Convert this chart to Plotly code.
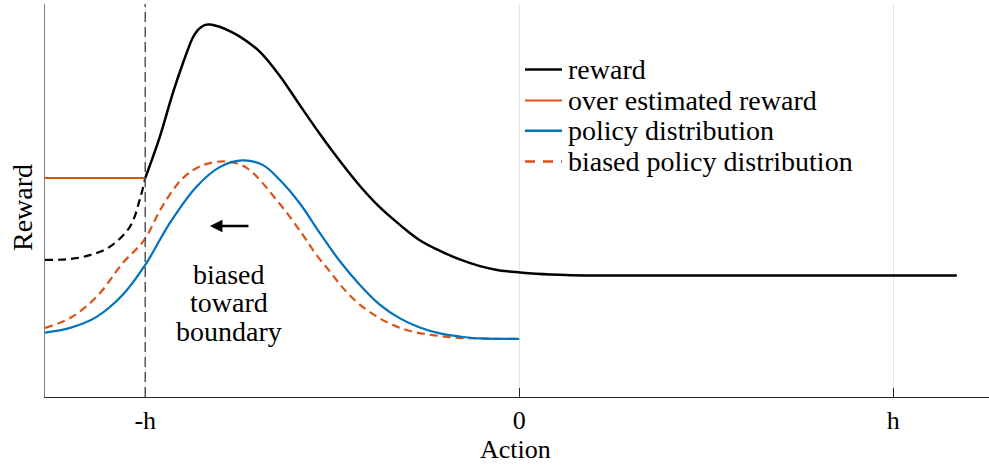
import plotly.graph_objects as go

# Action axis is in units of h (boundary at -h)
reward_x = [-1.0, -0.961, -0.926, -0.899, -0.872, -0.859, -0.849, -0.840, -0.827, -0.801,
            -0.774, -0.747, -0.694, -0.640, -0.587, -0.533, -0.480, -0.426, -0.373,
            -0.319, -0.266, -0.212, -0.159, -0.105, -0.052, 0.002, 0.082, 0.216, 1.170]
reward_y = [0.557, 0.662, 0.774, 0.850, 0.916, 0.934, 0.942, 0.947, 0.948, 0.942,
            0.931, 0.917, 0.879, 0.817, 0.743, 0.669, 0.601, 0.537, 0.483,
            0.438, 0.399, 0.372, 0.350, 0.333, 0.322, 0.317, 0.312, 0.309, 0.309]

# reward extrapolated past the boundary
reward_out_x = [-1.268, -1.202, -1.148, -1.095, -1.041, -1.015, -1.0]
reward_out_y = [0.349, 0.351, 0.361, 0.382, 0.433, 0.501, 0.557]

over_x = [-1.268, -1.0]
over_y = [0.557, 0.557]

policy_x = [-1.268, -1.201, -1.130, -1.060, -1.0, -0.934, -0.863, -0.801, -0.739, -0.685,
            -0.640, -0.587, -0.533, -0.480, -0.426, -0.373, -0.319, -0.266, -0.212,
            -0.159, -0.105, 0.0]
policy_y = [0.164, 0.176, 0.204, 0.260, 0.336, 0.443, 0.535, 0.585, 0.602, 0.590,
            0.552, 0.493, 0.417, 0.346, 0.285, 0.235, 0.200, 0.177, 0.162,
            0.154, 0.149, 0.148]

biased_x = [-1.268, -1.201, -1.130, -1.060, -1.003, -0.955, -0.899, -0.846, -0.782, -0.729,
            -0.645, -0.582, -0.542, -0.506, -0.471, -0.431, -0.380, -0.332, -0.284,
            -0.220, -0.150, 0.0]
biased_y = [0.176, 0.201, 0.255, 0.341, 0.399, 0.484, 0.557, 0.590, 0.599, 0.583,
            0.497, 0.417, 0.361, 0.319, 0.277, 0.239, 0.204, 0.181, 0.166,
            0.156, 0.150, 0.148]

tick_vals = [-1, 0, 1]
tick_text = ["-h", "0", "h"]
legend_names = ["reward", "over estimated reward", "policy distribution", "biased policy distribution"]

BLUE = "#0072BD"
ORANGE = "#D95319"
FONT = "Liberation Serif"
FS = 28
FS_AXIS = 26
SMOOTH = 1.0

fig = go.Figure()
fig.add_trace(go.Scatter(x=reward_out_x, y=reward_out_y, mode="lines",
                         line=dict(color="black", width=2.2, dash="8px,5px", shape="spline", smoothing=SMOOTH)))
fig.add_trace(go.Scatter(x=over_x, y=over_y, mode="lines", line=dict(color=ORANGE, width=2)))
fig.add_trace(go.Scatter(x=biased_x, y=biased_y, mode="lines",
                         line=dict(color=ORANGE, width=2.2, dash="8px,5px", shape="spline", smoothing=SMOOTH)))
fig.add_trace(go.Scatter(x=policy_x, y=policy_y, mode="lines",
                         line=dict(color=BLUE, width=2.2, shape="spline", smoothing=SMOOTH)))
fig.add_trace(go.Scatter(x=reward_x, y=reward_y, mode="lines",
                         line=dict(color="black", width=2.5, shape="spline", smoothing=SMOOTH)))

# boundary at -h
fig.add_shape(type="line", xref="x", yref="paper", x0=-1, x1=-1, y0=0, y1=1,
              line=dict(color="#555555", width=1.5, dash="10px,5px"))

# hand-placed legend
legend_styles = [dict(color="black", width=2.5),
                 dict(color=ORANGE, width=2),
                 dict(color=BLUE, width=2.5),
                 dict(color=ORANGE, width=2.5, dash="10px,8px")]
row_px = [69.5, 100.5, 130.8, 161.5]
for name, st, py in zip(legend_names, legend_styles, row_px):
    yp = (397 - py) / 393
    fig.add_shape(type="line", xref="paper", yref="paper",
                  x0=(525 - 45) / 944, x1=(562 - 45) / 944, y0=yp, y1=yp, line=st)
    fig.add_annotation(xref="paper", yref="paper", x=(566 - 45) / 944, y=yp,
                       text=name, showarrow=False, xanchor="left", yanchor="middle",
                       font=dict(family=FONT, size=FS, color="black"))

# arrow and its caption
fig.add_annotation(x=-0.827, y=0.435, ax=-0.720, ay=0.435, axref="x", ayref="y",
                   xref="x", yref="y", text="", showarrow=True, arrowhead=2,
                   arrowsize=1, arrowwidth=2.5, arrowcolor="black")
for line_text, py in zip(["biased", "toward", "boundary"], [274, 302, 331]):
    fig.add_annotation(x=-0.776, y=(397 - py) / 393, xref="x", yref="y", text=line_text,
                       showarrow=False, xanchor="center", yanchor="middle",
                       font=dict(family=FONT, size=FS, color="black"))

# axis titles
fig.add_annotation(xref="paper", yref="paper", x=(22 - 45) / 944, y=(397 - 208) / 393,
                   text="Reward", textangle=-90, showarrow=False, xanchor="center",
                   yanchor="middle", font=dict(family=FONT, size=FS, color="black"))
fig.add_annotation(xref="paper", yref="paper", x=(515 - 45) / 944, y=(397 - 465) / 393,
                   text="Action", showarrow=False, xanchor="center", yanchor="bottom",
                   borderpad=0, font=dict(family=FONT, size=FS_AXIS, color="black"))

fig.update_layout(
    width=989, height=465, showlegend=False,
    margin=dict(l=45, r=0, t=4, b=68),
    plot_bgcolor="white", paper_bgcolor="white",
    font=dict(family=FONT, size=FS, color="black"),
    xaxis=dict(range=[-1.268, 1.256], tickvals=tick_vals, ticktext=tick_text,
               ticks="inside", ticklen=9, tickcolor="#262626", tickwidth=1,
               showgrid=True, gridcolor="#e3e3e3", gridwidth=1, zeroline=False,
               showline=True, linecolor="#262626", linewidth=1,
               tickfont=dict(family=FONT, size=FS_AXIS, color="black")),
    yaxis=dict(range=[0, 1], showticklabels=False, ticks="", showgrid=False,
               zeroline=False, showline=True, linecolor="#808080", linewidth=1),
)

fig.write_html("out.html")
